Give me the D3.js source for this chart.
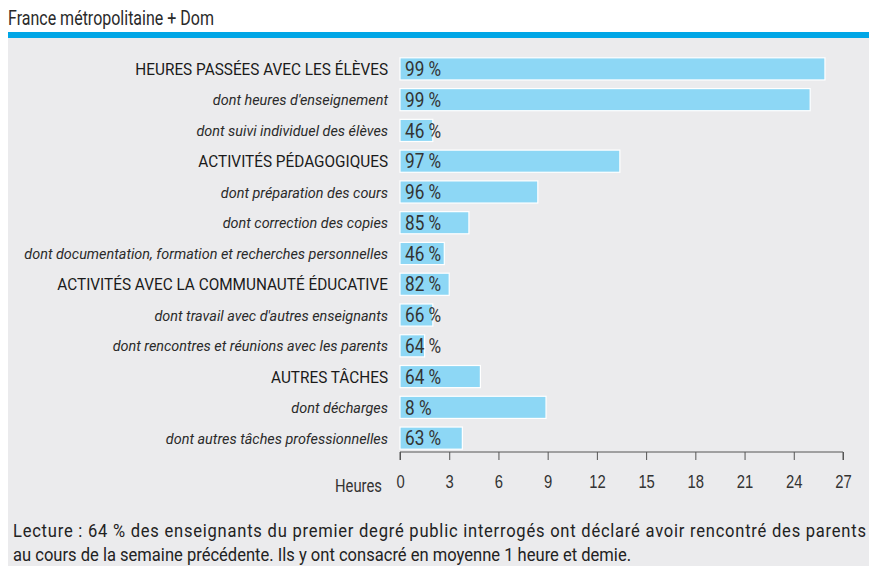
<!DOCTYPE html>
<html>
<head>
<meta charset="utf-8">
<title>Temps de travail des enseignants</title>
<style>
    html, body { margin: 0; padding: 0; background: #fff; }
    svg { display: block; font-family: "Roboto", "Liberation Sans", sans-serif; }
    .cat { fill: #1a1a1a; font-size: 16.5px; text-anchor: end; }
    .cat.sub { font-style: italic; font-size: 15.5px; fill: #2a2a2a; }
    .val { fill: #333; font-size: 20px; }
    .axis text { font-size: 19px; fill: #333; }
</style>
<script src="https://d3js.org/d3.v7.min.js"></script>
</head>
<body>
<svg id="chart"></svg>
<script>
// libellés des lignes (true = sous-rubrique en italique)
const categories = [
    "HEURES PASSÉES AVEC LES ÉLÈVES",
    "dont heures d'enseignement",
    "dont suivi individuel des élèves",
    "ACTIVITÉS PÉDAGOGIQUES",
    "dont préparation des cours",
    "dont correction des copies",
    "dont documentation, formation et recherches personnelles",
    "ACTIVITÉS AVEC LA COMMUNAUTÉ ÉDUCATIVE",
    "dont travail avec d'autres enseignants",
    "dont rencontres et réunions avec les parents",
    "AUTRES TÂCHES",
    "dont décharges",
    "dont autres tâches professionnelles"
];
const isSub = [false, true, true, false, true, true, true, false, true, true, false, true, true];
// heures moyennes par semaine
const heures = [25.9, 25.0, 2.0, 13.4, 8.4, 4.2, 2.7, 3.0, 2.0, 1.5, 4.9, 8.9, 3.8];
// part des enseignants ayant déclaré l'activité
const pourcent = [99, 99, 46, 97, 96, 85, 46, 82, 66, 64, 64, 8, 63];
const ticks = [0, 3, 6, 9, 12, 15, 18, 21, 24, 27];

const width = 869, height = 566;
const svg = d3.select("#chart").attr("width", width).attr("height", height);

// fond gris + filet bleu
svg.append("rect").attr("x", 8).attr("y", 38).attr("width", width - 8).attr("height", height - 38).attr("fill", "#ebebed");
svg.append("rect").attr("x", 8).attr("y", 32).attr("width", width - 8).attr("height", 6).attr("fill", "#00a6e6");

svg.append("text")
    .attr("transform", "translate(8,25) scale(0.8,1)")
    .attr("font-size", "20px").attr("fill", "#2a2a2a")
    .text("France métropolitaine + Dom");

const x = d3.scaleLinear().domain([0, 27]).range([400, 843]);
const y = d3.scaleBand().domain(categories).range([53.5, 453.5]).paddingInner(0.28).paddingOuter(0.14);

const rows = categories.map((c, i) => ({ cat: c, sub: isSub[i], h: heures[i], p: pourcent[i] }));

svg.selectAll(".bar")
    .data(rows)
    .enter()
    .append("rect")
    .attr("class", "bar")
    .attr("x", x(0))
    .attr("y", d => y(d.cat))
    .attr("width", d => x(d.h) - x(0))
    .attr("height", y.bandwidth())
    .attr("fill", "#8dd7f5")
    .attr("stroke", "#fff")
    .attr("stroke-width", 1.2);

svg.selectAll(".cat")
    .data(rows)
    .enter()
    .append("text")
    .attr("class", d => d.sub ? "cat sub" : "cat")
    .attr("transform", d => `translate(388,${y(d.cat) + y.bandwidth() / 2}) scale(0.93,1)`)
    .attr("dy", "0.36em")
    .text(d => d.cat);

svg.selectAll(".val")
    .data(rows)
    .enter()
    .append("text")
    .attr("class", "val")
    .attr("transform", d => `translate(${x(0) + 5},${y(d.cat) + y.bandwidth() / 2}) scale(0.86,1)`)
    .attr("dy", "0.36em")
    .text(d => d.p + " %");

const axis = svg.append("g")
    .attr("class", "axis")
    .attr("transform", "translate(0,452)")
    .call(d3.axisBottom(x).tickValues(ticks).tickSize(8).tickSizeOuter(8).tickPadding(15));
axis.selectAll("path, line").attr("stroke", "#555");
axis.select(".domain").attr("d", `M${x(0)},8V0H${x(27)}V8`);
axis.selectAll(".tick text").attr("transform", "scale(0.78,1)");

svg.append("text")
    .attr("transform", "translate(382,485) scale(0.78,1)")
    .attr("dy", "0.35em")
    .attr("text-anchor", "end")
    .attr("font-size", "19px").attr("fill", "#333")
    .text("Heures");

// note de lecture
svg.append("text")
    .attr("transform", "translate(13,537) scale(0.92,1)")
    .attr("font-size", "18px").attr("fill", "#222")
    .attr("textLength", 853 / 0.92).attr("lengthAdjust", "spacing")
    .text("Lecture : 64 % des enseignants du premier degré public interrogés ont déclaré avoir rencontré des parents");
svg.append("text")
    .attr("transform", "translate(13,561) scale(0.92,1)")
    .attr("font-size", "18px").attr("fill", "#222")
    .text("au cours de la semaine précédente. Ils y ont consacré en moyenne 1 heure et demie.");
</script>
</body>
</html>
